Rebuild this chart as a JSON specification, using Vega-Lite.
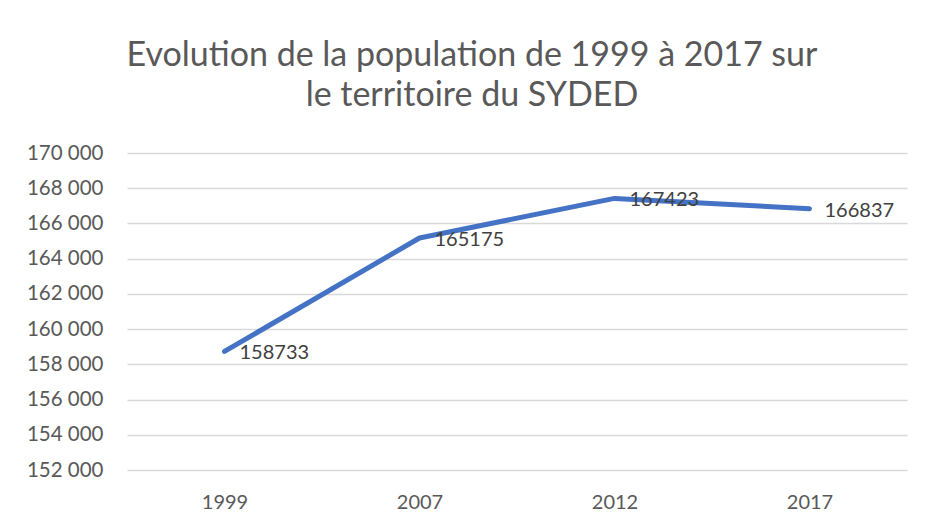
{
  "$schema": "https://vega.github.io/schema/vega-lite/v6.json",
  "autosize": "none",
  "width": 780,
  "height": 317,
  "padding": {"left": 127, "top": 153, "right": 18, "bottom": 57},
  "background": "white",
  "title": {
    "text": ["Evolution de la population de 1999 à 2017 sur", "le territoire du SYDED"],
    "font": "Lato",
    "fontSize": 34,
    "fontWeight": "normal",
    "color": "#595959",
    "lineHeight": 40,
    "anchor": "middle",
    "dx": -45,
    "offset": 30
  },
  "data": {
    "values": [
      {"annee": "1999", "population": 158733},
      {"annee": "2007", "population": 165175},
      {"annee": "2012", "population": 167423},
      {"annee": "2017", "population": 166837}
    ]
  },
  "encoding": {
    "x": {
      "field": "annee",
      "type": "ordinal",
      "scale": {"type": "point", "padding": 0.5},
      "axis": {
        "title": null,
        "labelAngle": 0,
        "domain": false,
        "ticks": false,
        "grid": false,
        "labelPadding": 22,
        "labelFont": "Lato",
        "labelFontSize": 20,
        "labelColor": "#595959"
      }
    },
    "y": {
      "field": "population",
      "type": "quantitative",
      "scale": {"domain": [152000, 170000], "zero": false, "nice": false},
      "axis": {
        "title": null,
        "values": [152000, 154000, 156000, 158000, 160000, 162000, 164000, 166000, 168000, 170000],
        "labelExpr": "replace(format(datum.value, ','), ',', ' ')",
        "domain": false,
        "ticks": false,
        "grid": true,
        "gridColor": "#d9d9d9",
        "gridWidth": 1.3,
        "labelPadding": 24,
        "labelFont": "Lato",
        "labelFontSize": 20.5,
        "labelColor": "#595959"
      }
    }
  },
  "layer": [
    {
      "mark": {"type": "line", "color": "#4472C4", "strokeWidth": 5, "strokeCap": "round", "strokeJoin": "round"}
    },
    {
      "mark": {"type": "text", "align": "left", "baseline": "middle", "dx": 15, "dy": 2, "font": "Lato", "fontSize": 20, "color": "#404040"},
      "encoding": {
        "text": {"field": "population", "type": "quantitative", "format": "d"}
      }
    }
  ],
  "config": {
    "view": {"stroke": null}
  }
}
